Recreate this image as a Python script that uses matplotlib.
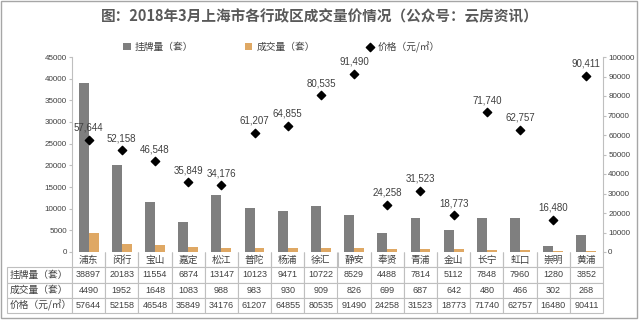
import matplotlib.pyplot as plt
import numpy as np
from matplotlib.patches import Rectangle

plt.rcParams['font.family'] = ['Noto Sans CJK SC', 'DejaVu Sans']

# Data
districts = ['浦东', '闵行', '宝山', '嘉定', '松江', '普陀', '杨浦', '徐汇', '静安',
             '奉贤', '青浦', '金山', '长宁', '虹口', '崇明', '黄浦']
listed = [38897, 20183, 11554, 6874, 13147, 10123, 9471, 10722, 8529,
          4488, 7814, 5112, 7848, 7960, 1280, 3852]
deals = [4490, 1952, 1648, 1083, 988, 983, 930, 909, 826,
         699, 687, 642, 480, 466, 302, 268]
price = [57644, 52158, 46548, 35849, 34176, 61207, 64855, 80535, 91490,
         24258, 31523, 18773, 71740, 62757, 16480, 90411]
row_names = ['挂牌量（套）', '成交量（套）', '价格（元/㎡）']

gray = '#7f7f7f'
orange = '#dfa864'
text_col = '#404040'
line_col = '#bfbfbf'
num_font = 'Liberation Sans'

W, H = 640, 322
fig = plt.figure(figsize=(W / 100, H / 100), dpi=100)
ax = fig.add_axes([72 / W, 1 - 252 / H, (603 - 72) / W, (252 - 57) / H])
ax2 = ax.twinx()

x = np.arange(len(districts))
bw = 0.3
ax.bar(x - bw / 2, listed, bw, color=gray, label='挂牌量（套）', zorder=2)
ax.bar(x + bw / 2, deals, bw, color=orange, label='成交量（套）', zorder=2)
ax2.scatter(x, price, marker='D', s=18, color='black', label='价格（元/㎡）', zorder=3)
for xi, p in zip(x, price):
    ax2.annotate(f'{p:,}', (xi, p), xytext=(0, 5), textcoords='offset points',
                 ha='center', va='bottom', fontsize=7, color=text_col,
                 family=num_font)

ax.set_xlim(-0.5, len(districts) - 0.5)
ax.set_ylim(0, 45000)
ax.set_yticks(np.arange(0, 45001, 5000))
ax2.set_ylim(0, 100000)
ax2.set_yticks(np.arange(0, 100001, 10000))
ax.set_xticks([])

for a in (ax, ax2):
    for s in ('top', 'bottom'):
        a.spines[s].set_visible(False)
    a.spines['left'].set_color(line_col)
    a.spines['right'].set_color(line_col)
    a.tick_params(axis='y', labelsize=5.8, labelcolor=text_col, color=line_col,
                  length=2.5, width=0.8, pad=1.2)
    for t in a.get_yticklabels():
        t.set_family(num_font)
ax.spines['right'].set_visible(False)
ax2.spines['left'].set_visible(False)

# data table under the axis
cell_text = [[''] + districts]
for name, vals in zip(row_names, [listed, deals, price]):
    cell_text.append([name] + [str(v) for v in vals])
lab_w = 65 / 531
col_w = [lab_w] + [1 / len(districts)] * len(districts)
tab_h = 61 / 195
tab = ax.table(cellText=cell_text, colWidths=col_w, cellLoc='center',
               bbox=[-lab_w, -tab_h, 1 + lab_w, tab_h])
tab.auto_set_font_size(False)
for (r, c), cell in tab.get_celld().items():
    cell.set_edgecolor(line_col)
    cell.set_linewidth(0.8)
    cell.get_text().set_color(text_col)
    if c == 0:
        cell.get_text().set_fontsize(7)
        cell.get_text().set_ha('left')
        cell.PAD = 0.04
    elif r == 0:
        cell.get_text().set_fontsize(7)
    else:
        cell.get_text().set_fontsize(6.5)
        cell.get_text().set_family(num_font)
    if r == 0 and c == 0:
        cell.visible_edges = ''
    elif r == 0:
        cell.visible_edges = 'LRB'

fig.text(0.5, 1 - 16 / H, '图：2018年3月上海市各行政区成交量价情况（公众号：云房资讯）',
         ha='center', va='center', fontsize=10.5, fontweight='bold', color='#595959')

h1, l1 = ax.get_legend_handles_labels()
h2, l2 = ax2.get_legend_handles_labels()
fig.legend(h1 + h2, l1 + l2, loc='center', bbox_to_anchor=(0.44, 1 - 47 / H), ncol=3,
           frameon=False, fontsize=7, columnspacing=5.3, handlelength=0.8,
           handleheight=0.8, handletextpad=0.4, labelcolor=text_col)

fig.patches.append(Rectangle((1 / W, 4 / H), 636 / W, 317 / H, transform=fig.transFigure,
                             fill=False, edgecolor='#a6a6a6', linewidth=1))

fig.savefig('out.png', dpi=100)
